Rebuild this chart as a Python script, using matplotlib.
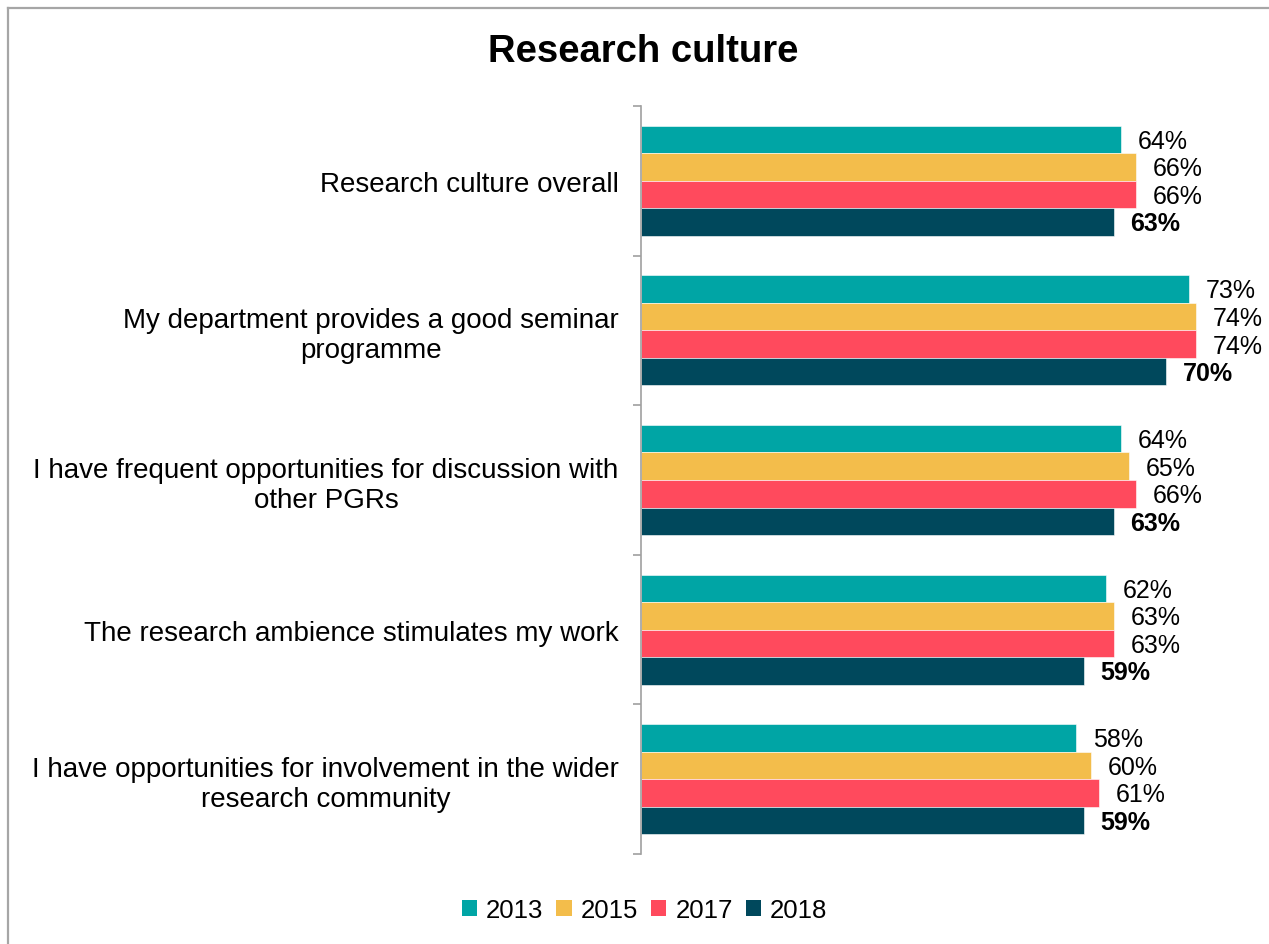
import numpy as np
import matplotlib
matplotlib.use("Agg")
import matplotlib.pyplot as plt
from matplotlib.patches import Patch
from matplotlib.lines import Line2D

plt.rcParams['font.family'] = ['Liberation Sans', 'DejaVu Sans']

categories = [
    "Research culture overall",
    "My department provides a good seminar\nprogramme",
    "I have frequent opportunities for discussion with\nother PGRs",
    "The research ambience stimulates my work",
    "I have opportunities for involvement in the wider\nresearch community",
]
years = ["2013", "2015", "2017", "2018"]
values_2013 = [64, 73, 64, 62, 58]
values_2015 = [66, 74, 65, 63, 60]
values_2017 = [66, 74, 66, 63, 61]
values_2018 = [63, 70, 63, 59, 59]
series = [values_2013, values_2015, values_2017, values_2018]
colors = ["#00a5a5", "#f3bd4b", "#ff4a5d", "#00485c"]

fig = plt.figure(figsize=(12.69, 9.45), dpi=100)
ax = fig.add_axes([0.5051, 0.0952, 0.473, 0.7916])

y = np.arange(len(categories))
h = 0.184
for j, (vals, col) in enumerate(zip(series, colors)):
    pos = y + (j - 1.5) * h
    ax.barh(pos, vals, height=h, color=col, edgecolor="#ffffff", linewidth=0.4)
    bold = j == len(series) - 1
    for p, v in zip(pos, vals):
        ax.annotate(f"{v}%", (v, p), xytext=(12, -1), textcoords="offset points",
                    va="center", ha="left", fontsize=18,
                    fontweight="bold" if bold else "normal", color="black")

ax.set_xlim(0, 80)
ax.set_ylim(len(categories) - 0.5, -0.5)
ax.set_xticks([])
for s in ["top", "right", "bottom"]:
    ax.spines[s].set_visible(False)
ax.spines["left"].set_color("#a0a0a0")
ax.spines["left"].set_linewidth(1.2)

ax.set_yticks(y)
ax.set_yticklabels(categories, fontsize=20, multialignment="center")
ax.tick_params(axis="y", which="major", length=0, pad=16)
ax.set_yticks(np.arange(-0.5, len(categories)), minor=True)
ax.tick_params(axis="y", which="minor", length=6, color="#a0a0a0", width=1.2)

fig.text(0.507, 1 - 52 / 945, "Research culture", ha="center", va="center",
         fontsize=27.5, fontweight="bold")

handles = [Patch(facecolor=c, edgecolor="none") for c in colors]
fig.legend(handles, years, loc="center", bbox_to_anchor=(0.508, 1 - 911 / 945),
           ncol=4, frameon=False, fontsize=18.5, handlelength=0.6, handleheight=0.6,
           handletextpad=0.35, columnspacing=0.5)

# outer chart frame (top and left edges only are visible)
x0, y0 = 8 / 1269, 1 - 9 / 945
fig.add_artist(Line2D([x0, 1.01], [y0, y0], transform=fig.transFigure, color="#a6a6a6", lw=1.6))
fig.add_artist(Line2D([x0, x0], [y0, -0.01], transform=fig.transFigure, color="#a6a6a6", lw=1.6))

fig.savefig("out.png", dpi=100, facecolor="white")
